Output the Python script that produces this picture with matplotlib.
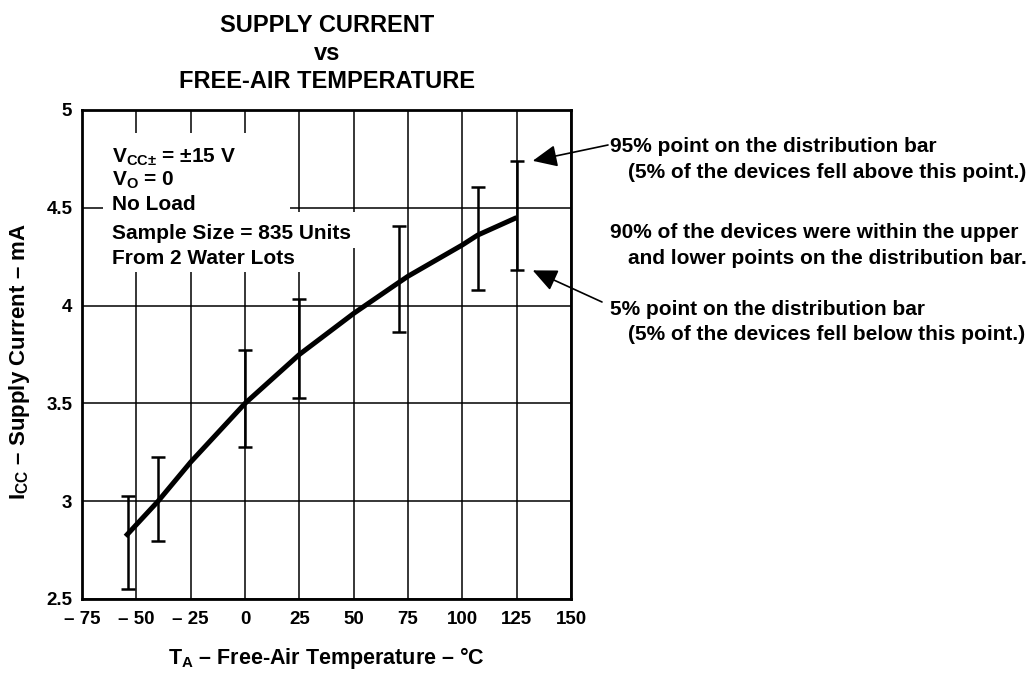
import numpy as np
import matplotlib
matplotlib.use("Agg")
import matplotlib.pyplot as plt
from matplotlib.patches import Rectangle
from matplotlib.transforms import offset_copy

# Data
curve_temp = [-55, -50, -40, -25, 0, 25, 50, 71, 75, 100, 107, 125]
curve_icc = [2.82, 2.88, 3.0, 3.2, 3.5, 3.75, 3.96, 4.12, 4.15, 4.31, 4.36, 4.45]

# distribution bars (5% / 95% points)
bar_temp = [-54, -40, 0, 25, 71, 107, 125]
bar_low = [2.55, 2.795, 3.275, 3.525, 3.867, 4.08, 4.18]
bar_high = [3.025, 3.226, 3.775, 4.036, 4.405, 4.605, 4.74]

x_ticks = [-75, -50, -25, 0, 25, 50, 75, 100, 125, 150]
x_labels = ["\u2013 75", "\u2013 50", "\u2013 25", "0", "25", "50", "75", "100", "125", "150"]
y_ticks = [2.5, 3, 3.5, 4, 4.5, 5]
y_labels = ["2.5", "3", "3.5", "4", "4.5", "5"]

conditions = ["V$_\\mathrm{CC\u00b1}$ = \u00b115 V", "V$_\\mathrm{O}$ = 0", "No Load",
              "Sample Size = 835 Units", "From 2 Water Lots"]

plt.rcParams['font.family'] = ['Liberation Sans', 'DejaVu Sans']
plt.rcParams['font.weight'] = 'bold'
plt.rcParams['mathtext.fontset'] = 'custom'
plt.rcParams['mathtext.rm'] = 'Liberation Sans:bold'
plt.rcParams['mathtext.it'] = 'Liberation Sans:bold'
plt.rcParams['mathtext.bf'] = 'Liberation Sans:bold'

fig = plt.figure(figsize=(10.36, 6.73), dpi=100)
ax = fig.add_axes([0.0792, 0.110, 0.472, 0.7266])

ax.plot(curve_temp, curve_icc, color='black', lw=3.6, solid_capstyle='butt', zorder=3)
mid = (np.array(bar_low) + np.array(bar_high)) / 2
err = (np.array(bar_high) - np.array(bar_low)) / 2
ax.errorbar(bar_temp, mid, yerr=err, fmt='none', ecolor='black', elinewidth=1.8,
            capsize=5, capthick=1.8, zorder=3)

ax.set_xlim(-75, 150)
ax.set_ylim(2.5, 5)
ax.set_xticks(x_ticks)
ax.set_xticklabels(x_labels, fontsize=13.5, fontweight='bold')
ax.set_yticks(y_ticks)
ax.set_yticklabels(y_labels, fontsize=13.5, fontweight='bold')
ax.tick_params(axis='both', length=0)
ax.tick_params(axis='x', pad=9)
ax.tick_params(axis='y', pad=7)
ax.grid(True, color='black', lw=1.1)
ax.set_axisbelow(True)
for s in ax.spines.values():
    s.set_linewidth(2)

# white blocks behind the test conditions (grid is broken there)
for (x0, y0, w, h) in [(0.043, 0.791, 0.382, 0.162),
                       (0.043, 0.669, 0.495, 0.122),
                       (0.538, 0.718, 0.024, 0.073)]:
    ax.add_patch(Rectangle((x0, y0), w, h, transform=ax.transAxes,
                           facecolor='white', edgecolor='none', zorder=1))
for yy, line in zip([0.904, 0.857, 0.806, 0.748, 0.697], conditions):
    ax.text(0.061, yy, line, transform=ax.transAxes, fontsize=15, fontweight='bold',
            va='center', ha='left', zorder=4)

# title
for yy, line in zip([32, 60, 88], ["SUPPLY CURRENT", "vs", "FREE-AIR TEMPERATURE"]):
    fig.text(327 / 1036, 1 - yy / 673, line, fontsize=17, fontweight='bold',
             ha='center', va='baseline')

fig.text(326 / 1036, 1 - 664 / 673, "T$_\\mathrm{A}$ \u2013 Free-Air Temperature \u2013 \u00b0C",
         fontsize=15.5, fontweight='bold', ha='center', va='baseline')
fig.text(20 / 1036, 1 - 362 / 673, "I$_\\mathrm{CC}$ \u2013 Supply Current \u2013 mA",
         fontsize=16, fontweight='bold', ha='center', va='center', rotation=90)

# notes on the right
notes = [(610, 147, "95% point on the distribution bar"),
         (628, 172, "(5% of the devices fell above this point.)"),
         (610, 233, "90% of the devices were within the upper"),
         (628, 258, "and lower points on the distribution bar."),
         (610, 310, "5% point on the distribution bar"),
         (628, 335, "(5% of the devices fell below this point.)")]
for xx, yy, t in notes:
    fig.text(xx / 1036, 1 - yy / 673, t, fontsize=15, fontweight='bold',
             ha='left', va='center')

shifted = offset_copy(ax.transData, fig=fig, x=16, y=0, units='dots')
arrow = dict(arrowstyle='-|>,head_length=1.0,head_width=0.45', color='black',
             lw=1.2, shrinkA=0, shrinkB=0, mutation_scale=15)
ax.annotate('', xy=(bar_temp[-1], bar_high[-1]), xycoords=shifted,
            xytext=(608, 673 - 145), textcoords='figure pixels',
            arrowprops=arrow, annotation_clip=False)
ax.annotate('', xy=(bar_temp[-1], bar_low[-1]), xycoords=shifted,
            xytext=(602, 673 - 302), textcoords='figure pixels',
            arrowprops=arrow, annotation_clip=False)

fig.savefig("out.png", dpi=100, facecolor='white')
